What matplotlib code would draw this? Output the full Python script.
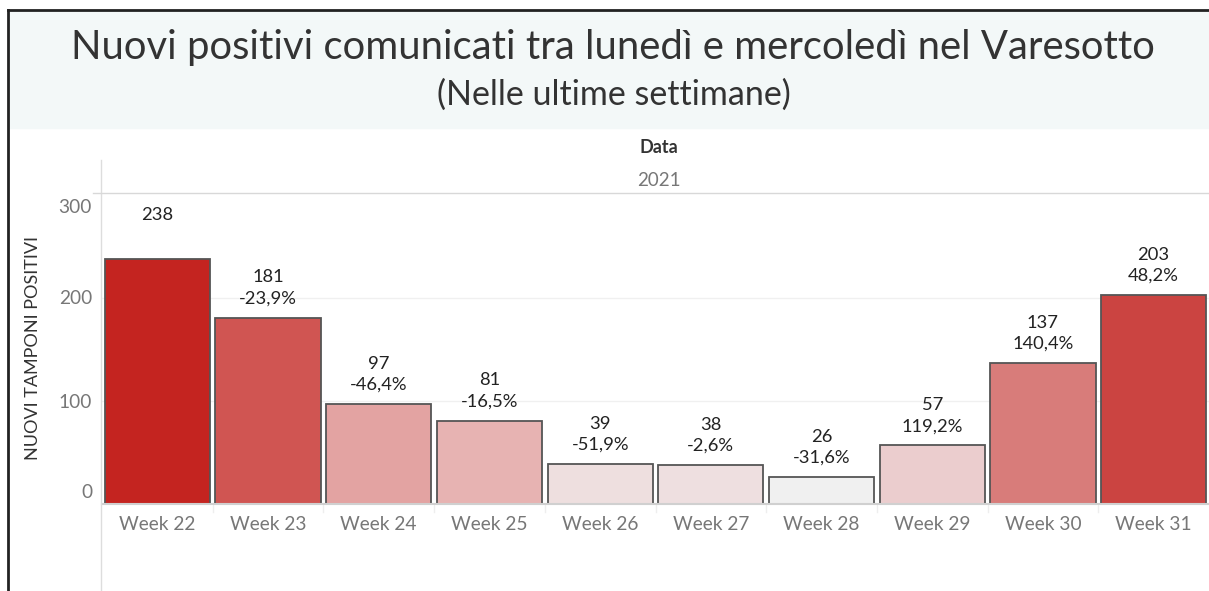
import matplotlib
matplotlib.use('Agg')
import matplotlib.pyplot as plt
from matplotlib.patches import Rectangle
from matplotlib.lines import Line2D

plt.rcParams['font.family'] = ['Lato', 'DejaVu Sans']

weeks = ['Week 22', 'Week 23', 'Week 24', 'Week 25', 'Week 26',
         'Week 27', 'Week 28', 'Week 29', 'Week 30', 'Week 31']
positivi = [238, 181, 97, 81, 39, 38, 26, 57, 137, 203]
variazione = ['', '-23,9%', '-46,4%', '-16,5%', '-51,9%',
              '-2,6%', '-31,6%', '119,2%', '140,4%', '48,2%']
colori = ['#c42420', '#d05552', '#e3a3a2', '#e7b3b2', '#eedfdf',
          '#eedfe0', '#f0f0f0', '#ebcdce', '#d87c7a', '#cb4441']

W, H = 1209, 591
fig = plt.figure(figsize=(W / 100, H / 100), dpi=100)


def fx(x):
    return x / W


def fy(y):
    return 1 - y / H


# header band
fig.patches.append(Rectangle((fx(9), fy(128)), 1, fy(10) - fy(128),
                             transform=fig.transFigure, color='#f3f8f8', zorder=0))
fig.lines.append(Line2D([fx(8), fx(8)], [0, fy(10)], transform=fig.transFigure,
                        color='#222222', lw=2))
fig.lines.append(Line2D([fx(8), 1], [fy(10), fy(10)], transform=fig.transFigure,
                        color='#222222', lw=2))

fig.text(fx(613), fy(47), 'Nuovi positivi comunicati tra lunedì e mercoledì nel Varesotto',
         ha='center', va='center', fontsize=28.8, color='#333333')
fig.text(fx(614), fy(95), '(Nelle ultime settimane)', ha='center', va='center',
         fontsize=24.5, color='#333333')

# column header
fig.text(fx(659), fy(148), 'Data', ha='center', va='center', fontsize=13,
         fontweight='bold', color='#333333')
fig.text(fx(659), fy(180), '2021', ha='center', va='center', fontsize=13.5,
         color='#777777')
fig.lines.append(Line2D([fx(101), fx(101)], [0, fy(160)], transform=fig.transFigure,
                        color='#dddddd', lw=1))
fig.lines.append(Line2D([fx(93), 1], [fy(193), fy(193)], transform=fig.transFigure,
                        color='#d8d8d8', lw=1))

ax = fig.add_axes([fx(102), fy(504), 1 - fx(102), fy(193) - fy(504)])
x = list(range(len(weeks)))
ax.bar(x, positivi, width=0.95, color=colori, edgecolor='#555555', linewidth=1.3, zorder=2)
ax.set_xlim(-0.5, len(weeks) - 0.5)
ax.set_ylim(0, 302)
for s in ax.spines.values():
    s.set_visible(False)
ax.axhline(0, color='#d0d0d0', lw=1.5, zorder=3, clip_on=False)
for g in [100, 200]:
    ax.axhline(g, color='#f0f0f0', lw=1, zorder=1)
ax.set_yticks([])
ax.set_xticks(x)
ax.set_xticklabels(weeks, fontsize=13.8, color='#777777')
ax.tick_params(axis='x', length=0, pad=9)
for i in range(1, len(weeks)):
    ax.plot([i - 0.5, i - 0.5], [0, -8], color='#eeeeee', lw=1, clip_on=False)

for lab, yp in [('300', 207), ('200', 299), ('100', 402), ('0', 492)]:
    fig.text(fx(92), fy(yp), lab, ha='right', va='center', fontsize=13.8, color='#777777')

fig.text(fx(33), fy(348), 'NUOVI TAMPONI POSITIVI', rotation=90, ha='center',
         va='center', fontsize=13, color='#333333')

for i, (v, p) in enumerate(zip(positivi, variazione)):
    if p:
        ax.annotate(f'{v}\n{p}', (i, v), xytext=(0, 8), textcoords='offset points',
                    ha='center', va='bottom', fontsize=13.2, color='#222222',
                    linespacing=1.4)
    else:
        ax.annotate(f'{v}', (i, v), xytext=(0, 26), textcoords='offset points',
                    ha='center', va='bottom', fontsize=13.2, color='#222222')

fig.savefig('out.png', dpi=100)
